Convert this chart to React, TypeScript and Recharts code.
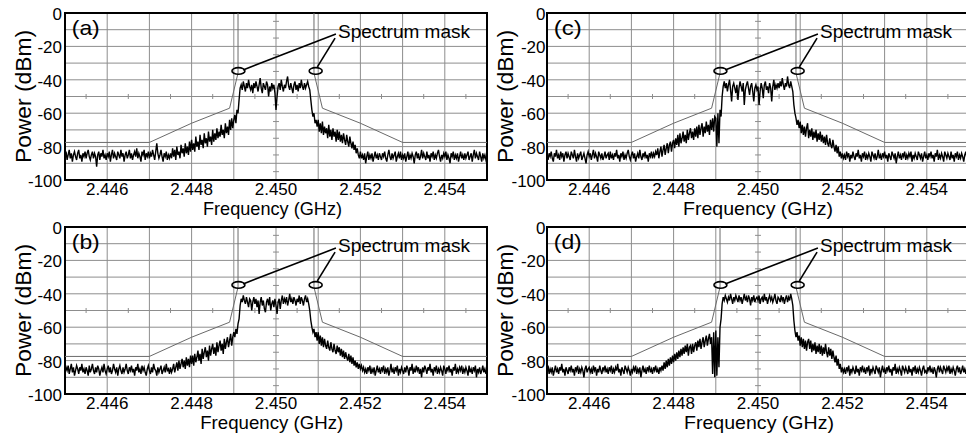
import React from 'react';
import {
  LineChart,
  Line,
  XAxis,
  YAxis,
  CartesianGrid,
  ReferenceLine,
  ReferenceArea,
  ReferenceDot,
} from 'recharts';

// Sweep: 401 points from 2.445 GHz to 2.455 GHz (each row below = 0.5 MHz)
const F_START = 2.445;
const F_STEP = 0.000025;

// Measured power traces (dBm), one value per sweep point
const powerA = [
  -86, -83, -88, -85, -82, -87, -84, -89, -85, -83, -86, -88, -84, -82, -87, -85, -89, -84, -86, -83,
  -87, -84, -82, -86, -88, -85, -83, -87, -84, -86, -92, -85, -83, -88, -84, -86, -82, -87, -85, -88,
  -84, -86, -83, -89, -85, -82, -87, -84, -86, -88, -83, -85, -87, -82, -86, -84, -89, -85, -83, -87,
  -85, -82, -87, -84, -88, -85, -83, -86, -81, -87, -84, -86, -89, -83, -85, -82, -88, -84, -86, -83,
  -87, -84, -86, -82, -85, -88, -83, -78, -84, -87, -85, -82, -86, -89, -84, -86, -83, -88, -85, -87,
  -84, -87, -81, -86, -82, -88, -80, -85, -83, -87, -79, -84, -81, -86, -78, -84, -80, -85, -77, -83,
  -76, -82, -78, -83, -74, -80, -77, -82, -73, -79, -76, -81, -72, -78, -75, -80, -71, -77, -74, -79,
  -70, -77, -72, -76, -69, -75, -71, -74, -67, -73, -70, -75, -66, -72, -68, -73, -64, -70, -63, -69,
  -64, -61, -66, -58, -60, -52, -45, -43, -46, -41, -44, -47, -42, -45, -40, -44, -46, -43, -48, -42,
  -45, -41, -44, -47, -43, -39, -45, -48, -42, -44, -46, -41, -43, -50, -44, -47, -42, -45, -43, -48,
  -58, -50, -44, -42, -46, -40, -44, -47, -43, -45, -41, -38, -44, -46, -42, -45, -48, -43, -41, -46,
  -43, -47, -42, -45, -40, -44, -46, -42, -45, -43, -41, -44, -46, -52, -58, -62, -60, -66, -64, -68,
  -64, -71, -66, -72, -65, -73, -68, -72, -69, -75, -67, -74, -70, -76, -69, -74, -71, -77, -70, -76,
  -71, -77, -73, -78, -72, -76, -79, -73, -77, -80, -74, -78, -81, -77, -82, -79, -84, -81, -85, -87,
  -83, -87, -85, -88, -84, -90, -86, -83, -88, -85, -87, -84, -89, -86, -83, -87, -85, -88, -84, -86,
  -88, -84, -86, -83, -87, -89, -85, -82, -86, -88, -84, -87, -85, -83, -89, -86, -84, -87, -83, -88,
  -85, -87, -84, -89, -86, -83, -88, -85, -87, -84, -86, -90, -85, -83, -87, -84, -88, -86, -82, -87,
  -84, -86, -88, -83, -87, -85, -89, -84, -86, -83, -88, -85, -87, -84, -82, -86, -89, -85, -87, -84,
  -86, -83, -88, -85, -87, -90, -84, -86, -83, -88, -85, -87, -84, -89, -86, -83, -87, -85, -88, -84,
  -87, -85, -83, -88, -86, -84, -89, -85, -82, -87, -84, -86, -88, -83, -86, -89, -84, -87, -85, -88,
  -86,
];

const powerB = [
  -87, -84, -86, -83, -88, -85, -82, -87, -84, -89, -86, -83, -85, -88, -84, -86, -82, -87, -85, -88,
  -84, -86, -89, -83, -87, -85, -82, -86, -88, -84, -87, -83, -85, -89, -86, -84, -87, -82, -86, -88,
  -85, -83, -87, -84, -88, -86, -82, -85, -87, -84, -89, -85, -83, -86, -88, -84, -87, -85, -82, -86,
  -88, -84, -86, -83, -87, -85, -89, -84, -86, -82, -87, -85, -88, -83, -86, -84, -87, -89, -85, -83,
  -86, -88, -84, -87, -82, -85, -86, -89, -84, -87, -85, -83, -88, -86, -84, -87, -82, -86, -85, -88,
  -84, -87, -85, -82, -87, -84, -81, -86, -80, -85, -82, -79, -84, -80, -85, -78, -83, -79, -84, -77,
  -82, -77, -83, -76, -81, -78, -74, -80, -76, -82, -73, -79, -75, -72, -78, -74, -80, -71, -77, -73,
  -70, -76, -72, -77, -69, -75, -71, -68, -74, -70, -76, -67, -73, -69, -66, -72, -68, -64, -71, -66,
  -63, -66, -61, -64, -58, -55, -47, -43, -45, -41, -44, -46, -42, -45, -48, -43, -44, -50, -45, -42,
  -46, -43, -48, -44, -52, -45, -42, -47, -44, -49, -51, -45, -43, -47, -42, -50, -46, -44, -48, -43,
  -47, -52, -45, -43, -49, -44, -41, -46, -43, -45, -42, -47, -44, -40, -45, -43, -46, -42, -44, -47,
  -43, -45, -41, -46, -42, -44, -47, -43, -41, -45, -43, -46, -50, -56, -60, -63, -61, -66, -63, -68,
  -63, -70, -65, -71, -66, -72, -67, -71, -73, -68, -72, -74, -69, -73, -75, -70, -74, -76, -71, -75,
  -72, -77, -73, -78, -74, -79, -75, -78, -80, -76, -81, -77, -82, -78, -83, -80, -84, -81, -85, -82,
  -85, -83, -86, -84, -87, -85, -88, -84, -86, -83, -88, -85, -87, -84, -89, -86, -83, -87, -85, -88,
  -84, -86, -83, -88, -85, -87, -84, -89, -86, -82, -87, -85, -88, -84, -86, -83, -89, -85, -87, -84,
  -86, -88, -84, -87, -83, -85, -89, -84, -86, -82, -88, -85, -87, -83, -86, -84, -88, -85, -90, -84,
  -87, -83, -85, -88, -84, -86, -82, -87, -85, -89, -84, -86, -83, -88, -85, -87, -84, -86, -89, -83,
  -85, -88, -84, -86, -83, -87, -85, -89, -84, -86, -82, -88, -85, -87, -84, -86, -83, -88, -85, -87,
  -84, -86, -89, -83, -87, -85, -88, -84, -86, -83, -90, -85, -87, -84, -88, -86, -83, -87, -85, -88,
  -85,
];

const powerC = [
  -85, -88, -84, -86, -83, -87, -89, -84, -86, -82, -87, -85, -88, -83, -86, -84, -89, -85, -83, -87,
  -84, -86, -88, -83, -85, -87, -82, -86, -89, -84, -87, -85, -83, -88, -86, -84, -87, -90, -85, -83,
  -86, -84, -88, -85, -82, -87, -84, -86, -89, -83, -85, -87, -84, -88, -86, -83, -87, -85, -84, -88,
  -83, -87, -85, -88, -84, -86, -82, -87, -85, -89, -84, -86, -83, -88, -85, -87, -84, -82, -86, -88,
  -85, -83, -87, -84, -89, -86, -84, -87, -82, -86, -88, -84, -86, -83, -87, -85, -89, -84, -86, -83,
  -87, -84, -86, -83, -85, -81, -87, -83, -80, -86, -82, -79, -85, -81, -78, -84, -79, -77, -83, -78,
  -76, -81, -75, -79, -73, -80, -72, -78, -75, -71, -77, -73, -78, -70, -76, -72, -69, -75, -71, -76,
  -69, -74, -68, -75, -67, -73, -69, -66, -74, -68, -72, -65, -71, -67, -73, -64, -70, -63, -71, -62,
  -63, -80, -60, -78, -58, -62, -50, -44, -41, -45, -42, -47, -43, -40, -46, -53, -44, -42, -45, -48,
  -43, -52, -45, -41, -44, -47, -42, -55, -46, -43, -41, -45, -49, -44, -42, -47, -53, -45, -43, -46,
  -44, -55, -47, -42, -45, -51, -43, -41, -46, -44, -48, -42, -45, -53, -44, -40, -46, -43, -45, -42,
  -45, -41, -44, -39, -43, -46, -42, -44, -38, -43, -45, -41, -44, -47, -55, -60, -63, -67, -64, -69,
  -65, -72, -67, -73, -68, -74, -69, -66, -75, -70, -74, -69, -76, -71, -75, -70, -77, -72, -76, -71,
  -77, -73, -78, -74, -79, -73, -78, -80, -75, -79, -81, -76, -80, -83, -79, -84, -80, -86, -83, -87,
  -84, -87, -85, -88, -83, -86, -84, -89, -85, -87, -83, -86, -88, -84, -86, -82, -87, -85, -89, -84,
  -86, -83, -88, -85, -87, -84, -86, -89, -83, -85, -87, -84, -88, -86, -82, -87, -85, -88, -84, -86,
  -83, -87, -85, -89, -84, -86, -88, -83, -85, -87, -84, -90, -86, -83, -87, -85, -88, -84, -86, -83,
  -88, -85, -87, -84, -86, -83, -89, -85, -87, -84, -86, -88, -83, -85, -87, -84, -89, -86, -83, -87,
  -85, -88, -84, -86, -83, -87, -85, -89, -84, -86, -82, -88, -85, -87, -84, -86, -89, -83, -85, -87,
  -84, -86, -88, -83, -87, -85, -89, -84, -86, -83, -88, -85, -87, -84, -86, -89, -85, -83, -87, -86,
  -85,
];

const powerD = [
  -86, -83, -88, -85, -87, -84, -89, -86, -83, -87, -85, -88, -84, -86, -82, -87, -85, -89, -84, -86,
  -88, -84, -86, -83, -87, -85, -89, -84, -86, -83, -88, -85, -87, -84, -86, -90, -85, -83, -87, -85,
  -84, -87, -85, -88, -83, -86, -84, -89, -85, -87, -83, -86, -88, -84, -86, -83, -87, -85, -88, -84,
  -86, -83, -88, -85, -87, -84, -86, -82, -87, -85, -89, -84, -86, -88, -83, -85, -87, -84, -86, -89,
  -85, -87, -84, -86, -83, -88, -85, -87, -84, -90, -86, -83, -87, -85, -88, -84, -86, -83, -87, -85,
  -88, -84, -86, -83, -87, -85, -88, -84, -86, -83, -86, -81, -85, -80, -84, -79, -83, -78, -82, -77,
  -81, -76, -80, -75, -79, -74, -78, -73, -77, -72, -76, -71, -75, -70, -77, -72, -71, -76, -70, -75,
  -71, -69, -74, -68, -72, -67, -73, -69, -66, -72, -68, -65, -71, -67, -64, -70, -66, -88, -63, -90,
  -62, -89, -66, -84, -60, -55, -46, -42, -44, -41, -43, -45, -42, -44, -40, -43, -46, -42, -44, -41,
  -43, -45, -41, -44, -42, -46, -43, -40, -44, -42, -45, -41, -43, -47, -42, -44, -41, -45, -43, -42,
  -44, -41, -46, -43, -42, -45, -40, -44, -42, -46, -43, -41, -44, -42, -45, -43, -40, -44, -46, -42,
  -43, -45, -41, -44, -42, -46, -43, -41, -45, -42, -44, -40, -43, -47, -56, -62, -66, -63, -68, -65,
  -71, -66, -72, -67, -73, -68, -74, -69, -67, -73, -68, -75, -70, -74, -69, -76, -71, -75, -70, -76,
  -71, -77, -72, -76, -70, -75, -78, -72, -77, -73, -79, -74, -78, -81, -77, -83, -79, -85, -82, -87,
  -84, -87, -85, -88, -84, -86, -83, -89, -85, -87, -84, -86, -88, -83, -87, -85, -89, -84, -86, -83,
  -87, -85, -88, -84, -86, -83, -89, -85, -87, -84, -86, -88, -83, -85, -87, -84, -90, -86, -83, -87,
  -85, -88, -84, -86, -83, -87, -85, -89, -84, -86, -82, -88, -85, -87, -84, -86, -89, -83, -85, -87,
  -84, -86, -88, -83, -87, -85, -89, -84, -86, -83, -88, -85, -87, -84, -86, -89, -85, -83, -87, -86,
  -88, -84, -86, -83, -87, -85, -88, -84, -86, -90, -85, -83, -87, -84, -86, -88, -83, -85, -87, -84,
  -86, -83, -88, -85, -87, -84, -86, -89, -85, -83, -87, -84, -88, -86, -83, -87, -85, -88, -84, -86,
  -85,
];

// Spectrum mask (GHz, dBm)
const maskLeftFreq = [2.445, 2.447, 2.448, 2.4489, 2.4491, 2.4491];
const maskLeftLevel = [-77.5, -77.5, -66, -57, -36, 0];
const maskRightFreq = [2.4509, 2.4509, 2.4511, 2.452, 2.453, 2.455];
const maskRightLevel = [0, -36, -57, -66, -77.5, -77.5];

// Axes and graticule
const xTicks = [2.446, 2.448, 2.45, 2.452, 2.454];
const yTicks = [0, -20, -40, -60, -80, -100];
const gridFreqs = [2.446, 2.447, 2.448, 2.449, 2.45, 2.451, 2.452, 2.453, 2.454];
const gridLevels = [-10, -20, -30, -40, -50, -60, -70, -80, -90];
const centerFreqTicks = [2.4455, 2.4465, 2.4475, 2.4485, 2.4495, 2.4505, 2.4515, 2.4525, 2.4535, 2.4545];
const centerLevelTicks = [-5, -15, -25, -35, -45, -55, -65, -75, -85, -95];

const FONT = '"Liberation Sans", Arial, Helvetica, sans-serif';
const GRID = '#8d8d8d';

const XTick = (props: any) => {
  const { x, y, payload } = props;
  return (
    <text x={x} y={y + 14.5} textAnchor="middle" fontFamily={FONT} fontSize={17} fill="#000">
      {Number(payload.value).toFixed(3)}
    </text>
  );
};

const makeYTick = (gap: number) => (props: any) => {
  const { x, y, payload } = props;
  return (
    <text x={x - gap} y={y + 7} textAnchor="end" fontFamily={FONT} fontSize={17} fill="#000">
      {payload.value}
    </text>
  );
};

type PanelProps = {
  tag: string;
  power: number[];
  left: number;
  top: number;
  freqDx: number;
  freqLen: number;
  tickGap: number;
};

function Panel({ tag, power, left, top, freqDx, freqLen, tickGap }: PanelProps) {
  const data = power.map((p, i) => ({ f: +(F_START + i * F_STEP).toFixed(6), p }));
  const maskL = maskLeftFreq.map((f, i) => ({ f, p: maskLeftLevel[i] }));
  const maskR = maskRightFreq.map((f, i) => ({ f, p: maskRightLevel[i] }));
  const YTick = makeYTick(tickGap);
  return (
    <div style={{ position: 'absolute', left, top }}>
      <LineChart width={490} height={221} data={data} margin={{ top: 13, right: 3, left: 0, bottom: 0 }}>
        <CartesianGrid
          stroke={GRID}
          strokeWidth={1}
          horizontalValues={gridLevels}
          verticalValues={gridFreqs}
        />
        <XAxis
          type="number"
          dataKey="f"
          domain={[2.445, 2.455]}
          ticks={xTicks}
          interval={0}
          height={41}
          axisLine={false}
          tickLine={false}
          tickSize={0}
          tickMargin={0}
          tick={XTick}
          allowDataOverflow
        />
        <YAxis
          type="number"
          domain={[-100, 0]}
          ticks={yTicks}
          interval={0}
          width={65}
          axisLine={false}
          tickLine={false}
          tickSize={0}
          tickMargin={0}
          tick={YTick}
          allowDataOverflow
        />
        {centerFreqTicks.map((f) => (
          <ReferenceLine
            key={'cf' + f}
            segment={[{ x: f, y: -48.5 }, { x: f, y: -51.5 }]}
            stroke={GRID}
            strokeWidth={1}
          />
        ))}
        {centerLevelTicks.map((v) => (
          <ReferenceLine
            key={'cl' + v}
            segment={[{ x: 2.44993, y: v }, { x: 2.45007, y: v }]}
            stroke={GRID}
            strokeWidth={1}
          />
        ))}
        <Line data={maskL} dataKey="p" stroke="#6a6a6a" strokeWidth={1} dot={false} isAnimationActive={false} />
        <Line data={maskR} dataKey="p" stroke="#6a6a6a" strokeWidth={1} dot={false} isAnimationActive={false} />
        <Line dataKey="p" stroke="#000" strokeWidth={1.4} dot={false} isAnimationActive={false} />
        <ReferenceArea
          x1={2.445}
          x2={2.455}
          y1={-100}
          y2={0}
          fill="none"
          fillOpacity={0}
          stroke="#000"
          strokeWidth={2}
          ifOverflow="visible"
        />
        {/* Annotation: Spectrum mask */}
        <ReferenceLine
          segment={[{ x: 2.45142, y: -12.6 }, { x: 2.44922, y: -34.1 }]}
          stroke="#000"
          strokeWidth={1.6}
        />
        <ReferenceLine
          segment={[{ x: 2.4514, y: -15 }, { x: 2.45098, y: -32.3 }]}
          stroke="#000"
          strokeWidth={1.6}
        />
        <ReferenceDot
          x={2.44911}
          y={-34.7}
          r={1}
          shape={(p: any) => (
            <ellipse cx={p.cx} cy={p.cy} rx={6.5} ry={3.3} fill="none" stroke="#000" strokeWidth={1.6} />
          )}
        />
        <ReferenceDot
          x={2.45094}
          y={-34.7}
          r={1}
          shape={(p: any) => (
            <ellipse cx={p.cx} cy={p.cy} rx={6.5} ry={3.3} fill="none" stroke="#000" strokeWidth={1.6} />
          )}
        />
        <ReferenceDot
          x={2.45147}
          y={-15}
          r={1}
          shape={(p: any) => (
            <text x={p.cx} y={p.cy} fontFamily={FONT} fontSize={18} fill="#000" textLength={132} lengthAdjust="spacingAndGlyphs">
              Spectrum mask
            </text>
          )}
        />
        <ReferenceDot
          x={2.44516}
          y={-13.2}
          r={1}
          shape={(p: any) => (
            <text x={p.cx} y={p.cy} fontFamily={FONT} fontSize={21} fill="#000" textLength={28} lengthAdjust="spacingAndGlyphs">
              {tag}
            </text>
          )}
        />
        {/* Axis titles */}
        <ReferenceDot
          x={2.445}
          y={-50}
          r={1}
          shape={(p: any) => (
            <text
              x={p.cx - 34.5}
              y={p.cy}
              transform={`rotate(-90 ${p.cx - 34.5} ${p.cy})`}
              textAnchor="middle"
              fontFamily={FONT}
              fontSize={22}
              fill="#000"
              textLength={133}
              lengthAdjust="spacingAndGlyphs"
            >
              Power (dBm)
            </text>
          )}
        />
        <ReferenceDot
          x={2.45}
          y={-100}
          r={1}
          shape={(p: any) => (
            <text
              x={p.cx + freqDx}
              y={p.cy + 34.5}
              textAnchor="middle"
              fontFamily={FONT}
              fontSize={19}
              fill="#000"
              textLength={freqLen}
              lengthAdjust="spacingAndGlyphs"
            >
              Frequency (GHz)
            </text>
          )}
        />
      </LineChart>
    </div>
  );
}

export default function App() {
  return (
    <div
      style={{
        position: 'absolute',
        left: 0,
        top: 0,
        width: 966,
        height: 434,
        overflow: 'hidden',
        background: '#fff',
      }}
    >
      <Panel tag="(a)" power={powerA} left={0} top={0} freqDx={-3.5} freqLen={139} tickGap={3} />
      <Panel tag="(b)" power={powerB} left={0} top={214} freqDx={-4.3} freqLen={143} tickGap={3} />
      <Panel tag="(c)" power={powerC} left={482} top={0} freqDx={0} freqLen={150} tickGap={1.5} />
      <Panel tag="(d)" power={powerD} left={482} top={214} freqDx={1} freqLen={150} tickGap={1.5} />
    </div>
  );
}
